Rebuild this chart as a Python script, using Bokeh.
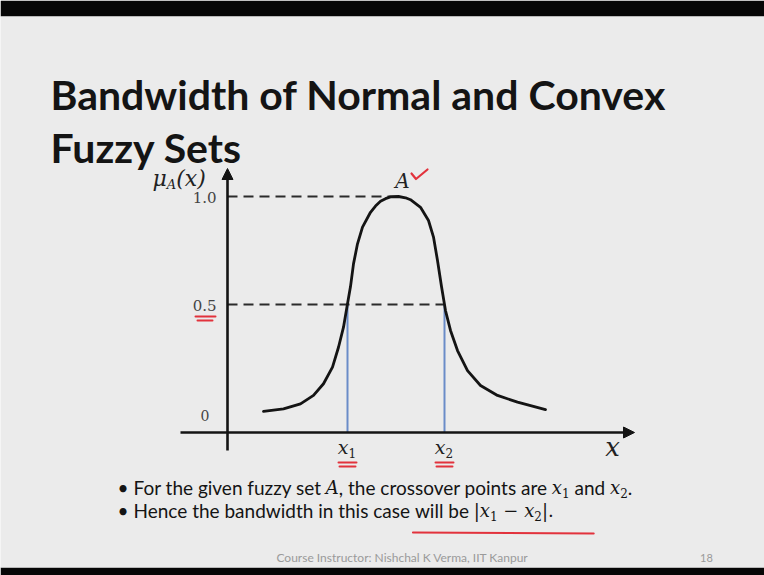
import glob
import os

from bokeh.core.properties import value
from bokeh.embed import file_html
from bokeh.models import Arrow, NormalHead, Range1d
from bokeh.plotting import figure
from bokeh.resources import INLINE

# ---- data -------------------------------------------------------------
# fuzzy set A: bell-shaped, normal and convex membership function (x, mu)
curve_x = [3.6, 5.6, 7.3, 8.6, 9.6, 10.5, 11.1, 11.6, 12.0, 12.3, 12.6, 13.0,
           13.5, 14.3, 14.8, 15.3, 15.8, 16.3, 17.1, 17.8, 18.3, 19.3, 20.1,
           20.6, 21.0, 21.4, 21.8, 22.3, 23.0, 24.0, 25.3, 27.0, 29.0, 31.8]
curve_mu = [0.005, 0.017, 0.040, 0.079, 0.133, 0.210, 0.302, 0.395, 0.503,
            0.583, 0.688, 0.781, 0.858, 0.927, 0.956, 0.978, 0.990, 0.998,
            1.000, 0.994, 0.985, 0.950, 0.889, 0.812, 0.704, 0.583, 0.472,
            0.380, 0.287, 0.194, 0.125, 0.079, 0.048, 0.013]
peak_x = 17.1
crossover_mu = 0.5
crossover_x = [12.0, 21.7]
crossover_names = ["1", "2"]
tick_values = [1.0, 0.5, 0.0]
tick_labels = ["1.0", "0.5", "0"]

# ---- page geometry (pixels -> data) ------------------------------------
W, H = 764, 575
BAR_TOP, BAR_BOTTOM = 16, 8


def X(px):
    return (px - 227) / 10.0


def Y(py):
    return (412 - py) / 216.0


def PY(mu):
    return 412 - mu * 216.0


AXIS_Y = Y(432)

p = figure(width=W, height=H, output_backend="svg", toolbar_location=None,
           x_range=Range1d(X(0), X(W)), y_range=Range1d(Y(H - BAR_BOTTOM), Y(BAR_TOP)),
           min_border_left=0, min_border_right=0,
           min_border_top=BAR_TOP, min_border_bottom=BAR_BOTTOM,
           x_axis_location=None, y_axis_location=None,
           background_fill_color="#ebebeb", border_fill_color="#060606")
p.grid.visible = False
p.outline_line_color = None

SANS = "Lato"
MATH = "DejaVu Serif"
RED = "#e2323c"
INK = "#141414"


def find_font(fname):
    for d in ["/usr/share/fonts", "/usr/local/share/fonts",
              os.path.expanduser("~/.fonts"), os.path.expanduser("~/.local/share/fonts")]:
        hits = glob.glob(os.path.join(d, "**", fname), recursive=True)
        if hits:
            return hits[0]
    return None


FONT_FILES = {
    (SANS, "normal"): "Lato-Regular.ttf",
    (SANS, "bold"): "Lato-Bold.ttf",
    (MATH, "italic"): "DejaVuSerif-Italic.ttf",
    (MATH, "normal"): "DejaVuSerif.ttf",
}


def text_width(s, font, style, size):
    try:
        from PIL import ImageFont
        path = find_font(FONT_FILES[(font, style)])
        if path:
            return ImageFont.truetype(path, size).getlength(s)
    except Exception:
        pass
    return len(s) * size * 0.55


def put(px, py, s, font=SANS, size=20, color=INK, style="normal",
        align="left", baseline="middle"):
    p.text(x=[X(px)], y=[Y(py)], text=[s], text_font=value(font),
           text_font_size=value(f"{size}px"), text_font_style=style,
           text_color=color, text_align=align, text_baseline=baseline)


def put_run(px, py, runs):
    """Lay out a sequence of (text, font, style, size, dy, color) left to right.

    Leading blanks are not drawn by SVG text, so they are turned into an
    offset before the piece is placed."""
    cur = px
    starts = []
    for s, font, style, size, dy, color in runs:
        body = s.lstrip(" ")
        lead = s[:len(s) - len(body)]
        if lead:
            cur += text_width(lead, font, style, size)
        starts.append(cur)
        put(cur, py + dy, body, font=font, size=size, color=color, style=style)
        cur += text_width(body, font, style, size)
    return starts, cur


# ---- title ---------------------------------------------------------------
put(50, 94, "Bandwidth of Normal and Convex", size=41, style="bold")
put(50, 147, "Fuzzy Sets", size=41, style="bold")

# ---- axes --------------------------------------------------------------
p.add_layout(Arrow(end=NormalHead(size=11, fill_color=INK, line_color=INK),
                   x_start=X(180), y_start=AXIS_Y, x_end=X(634), y_end=AXIS_Y,
                   line_width=2.6, line_color=INK))
p.add_layout(Arrow(end=NormalHead(size=11, fill_color=INK, line_color=INK),
                   x_start=0, y_start=Y(450), x_end=0, y_end=Y(168),
                   line_width=2.6, line_color=INK))

# y-axis title mu_A(x)
put_run(152, 178, [("μ", MATH, "italic", 22, 0, "#222"),
                   ("A", MATH, "italic", 13, 6, "#222"),
                   ("(x)", MATH, "italic", 22, 0, "#222")])
put(612, 446, "x", font=MATH, size=26, style="italic", color="#222", align="center")

# membership level ticks
for v, lab in zip(tick_values, tick_labels):
    if v == 0.0:
        put(209, PY(v) + 3, lab, font=MATH, size=14, color="#444", align="right")
    else:
        put(216, PY(v) + 1, lab, font=MATH, size=15, color="#444", align="right")

# dashed guides at mu = 1.0 and mu = 0.5
p.segment(x0=[0, 0], y0=[1.0, crossover_mu], x1=[peak_x, crossover_x[1]],
          y1=[1.0, crossover_mu], line_color="#2b2b2b", line_width=2.2,
          line_dash="10 6")

# crossover verticals
p.segment(x0=crossover_x, y0=[crossover_mu] * 2, x1=crossover_x,
          y1=[AXIS_Y] * 2, line_color="#6a8cc8", line_width=2)

# membership curve
p.line(curve_x, curve_mu, line_color=INK, line_width=2.8, line_join="round",
       line_cap="round")

# set name with check mark
put(402, 180, "A", font=MATH, size=20, style="italic", color="#222", align="center")
p.line([X(411), X(415.5), X(427)], [Y(173), Y(178.5), Y(169)],
       line_color=RED, line_width=2.2, line_join="round", line_cap="round")

# crossover labels x1, x2 with double underline
for cx, name in zip(crossover_x, crossover_names):
    cpx = 227 + cx * 10
    put(cpx + 1, 446, "x", font=MATH, size=19, style="italic", color="#222", align="right")
    put(cpx + 1, 452, name, font=MATH, size=12, color="#222")
    for dy, half in [(462, 9), (466, 8)]:
        p.line([X(cpx - half), X(cpx + half)], [Y(dy), Y(dy)], line_color=RED,
               line_width=2, line_cap="round")

# red double underline below the 0.5 label
u = PY(crossover_mu)
p.line([X(195), X(215)], [Y(u + 12), Y(u + 12)], line_color=RED, line_width=2, line_cap="round")
p.line([X(197), X(212)], [Y(u + 16), Y(u + 16)], line_color=RED, line_width=2, line_cap="round")

# ---- bullets -------------------------------------------------------------
BS = 19
MS = 18
SUB = 12
put(117, 487, "•", size=BS)
put_run(133, 487, [
    ("For the given fuzzy set ", SANS, "normal", BS, 0, INK),
    ("A", MATH, "italic", MS, 0, INK),
    (", the crossover points are ", SANS, "normal", BS, 0, INK),
    ("x", MATH, "italic", MS, 0, INK),
    ("1", MATH, "normal", SUB, 5, INK),
    (" and ", SANS, "normal", BS, 0, INK),
    ("x", MATH, "italic", MS, 0, INK),
    ("2", MATH, "normal", SUB, 5, INK),
    (".", SANS, "normal", BS, 0, INK),
])
put(117, 510, "•", size=BS)
starts, end = put_run(133, 510, [
    ("Hence the bandwidth in this case ", SANS, "normal", BS, 0, INK),
    ("will be ", SANS, "normal", BS, 0, INK),
    ("|", MATH, "normal", MS, 0, INK),
    ("x", MATH, "italic", MS, 0, INK),
    ("1", MATH, "normal", SUB, 5, INK),
    (" − ", MATH, "normal", MS, 0, INK),
    ("x", MATH, "italic", MS, 0, INK),
    ("2", MATH, "normal", SUB, 5, INK),
    ("|.", MATH, "normal", MS, 0, INK),
])
p.line([X(starts[1] - 2), X(end + 40)], [Y(532), Y(533)], line_color=RED,
       line_width=2, line_cap="round")

# ---- footer --------------------------------------------------------------
put(402, 557, "Course Instructor: Nishchal K Verma, IIT Kanpur", size=12,
    color="#9a9a9a", align="center")
put(706, 557, "18", size=11, color="#9a9a9a", align="center")

open("out.html", "w").write(file_html(p, INLINE))
